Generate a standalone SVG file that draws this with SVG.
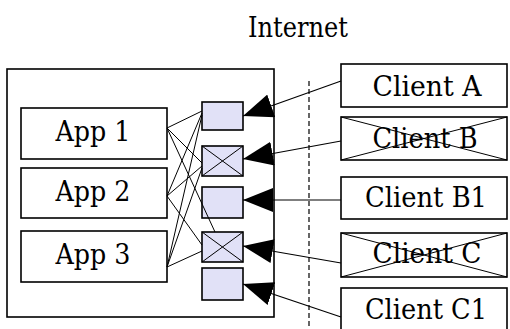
<svg xmlns="http://www.w3.org/2000/svg" width="510" height="329" viewBox="0 0 510 329">
<style>
.t{font-family:"DejaVu Serif","Liberation Serif",serif;font-size:27px;fill:#000;text-anchor:middle}
.box{fill:#fff;stroke:#000;stroke-width:1.6}
.sq{fill:#E1E1F7;stroke:#000;stroke-width:1.6}
.x{stroke:#000;stroke-width:1;fill:none}
.c{stroke:#000;stroke-width:1.2;fill:none}
.w{stroke:#000;stroke-width:1;fill:none}
</style>
<defs>
<marker id="ah" viewBox="0 0 30 24" refX="30" refY="12" markerWidth="30" markerHeight="24" markerUnits="userSpaceOnUse" orient="auto">
<path d="M0,0 L30,12 L0,24 Z" fill="#000"/>
</marker>
</defs>
<rect width="510" height="329" fill="#fff"/>
<text class="t" x="298" y="37" textLength="100" lengthAdjust="spacingAndGlyphs">Internet</text>
<line x1="309" y1="81" x2="309" y2="329" stroke="#000" stroke-width="1.2" stroke-dasharray="5,3"/>
<g id="server">
<rect class="box" x="7" y="69" width="267" height="248"/>
</g>
<g id="app1"><rect class="box" x="21" y="108" width="146" height="51"/><text class="t" x="93" y="141" textLength="75" lengthAdjust="spacingAndGlyphs">App 1</text></g>
<g id="app2"><rect class="box" x="21" y="168" width="146" height="50"/><text class="t" x="93" y="201" textLength="75" lengthAdjust="spacingAndGlyphs">App 2</text></g>
<g id="app3"><rect class="box" x="21" y="231" width="146" height="51"/><text class="t" x="93" y="264" textLength="75" lengthAdjust="spacingAndGlyphs">App 3</text></g>
<g id="port1"><rect class="sq" x="202" y="102" width="41" height="28"/></g>
<g id="port2"><rect class="sq" x="202" y="146" width="41" height="30"/><path class="x" d="M202,146 L243,176 M243,146 L202,176"/></g>
<g id="port3"><rect class="sq" x="202" y="187" width="41" height="31"/></g>
<g id="port4"><rect class="sq" x="202" y="232" width="41" height="30"/><path class="x" d="M202,232 L243,262 M243,232 L202,262"/></g>
<g id="port5"><rect class="sq" x="202" y="268" width="41" height="32"/></g>
<g id="clientA"><rect class="box" x="341" y="64" width="166" height="43"/><text class="t" x="427" y="96" textLength="109" lengthAdjust="spacingAndGlyphs">Client A</text></g>
<g id="clientB"><rect class="box" x="341" y="117" width="166" height="43"/><path class="x" d="M341,117 L507,160 M507,117 L341,160"/><text class="t" x="425" y="148" textLength="105" lengthAdjust="spacingAndGlyphs">Client B</text></g>
<g id="clientB1"><rect class="box" x="341" y="177" width="166" height="42"/><text class="t" x="426" y="207" textLength="122" lengthAdjust="spacingAndGlyphs">Client B1</text></g>
<g id="clientC"><rect class="box" x="341" y="233" width="166" height="44"/><path class="x" d="M341,233 L507,277 M507,233 L341,277"/><text class="t" x="427" y="263" textLength="109" lengthAdjust="spacingAndGlyphs">Client C</text></g>
<g id="clientC1"><rect class="box" x="341" y="288" width="166" height="50"/><text class="t" x="426" y="319" textLength="122" lengthAdjust="spacingAndGlyphs">Client C1</text></g>
<g id="connectors">
<line class="c" x1="341" y1="81" x2="243" y2="116" marker-end="url(#ah)"/>
<line class="c" x1="341" y1="141" x2="243" y2="159" marker-end="url(#ah)"/>
<line class="c" x1="341" y1="200" x2="243" y2="200" marker-end="url(#ah)"/>
<line class="c" x1="341" y1="263" x2="243" y2="246" marker-end="url(#ah)"/>
<line class="c" x1="341" y1="317" x2="243" y2="284" marker-end="url(#ah)"/>
<path class="w" d="M167,128 L202,111 M167,128 L202,163 M167,128 L215,232"/>
<path class="w" d="M167,196 L202,113 M167,196 L202,166 M167,196 L202,245"/>
<path class="w" d="M167,267 L202,115 M167,267 L202,168 M167,267 L202,251"/>
</g>
</svg>
